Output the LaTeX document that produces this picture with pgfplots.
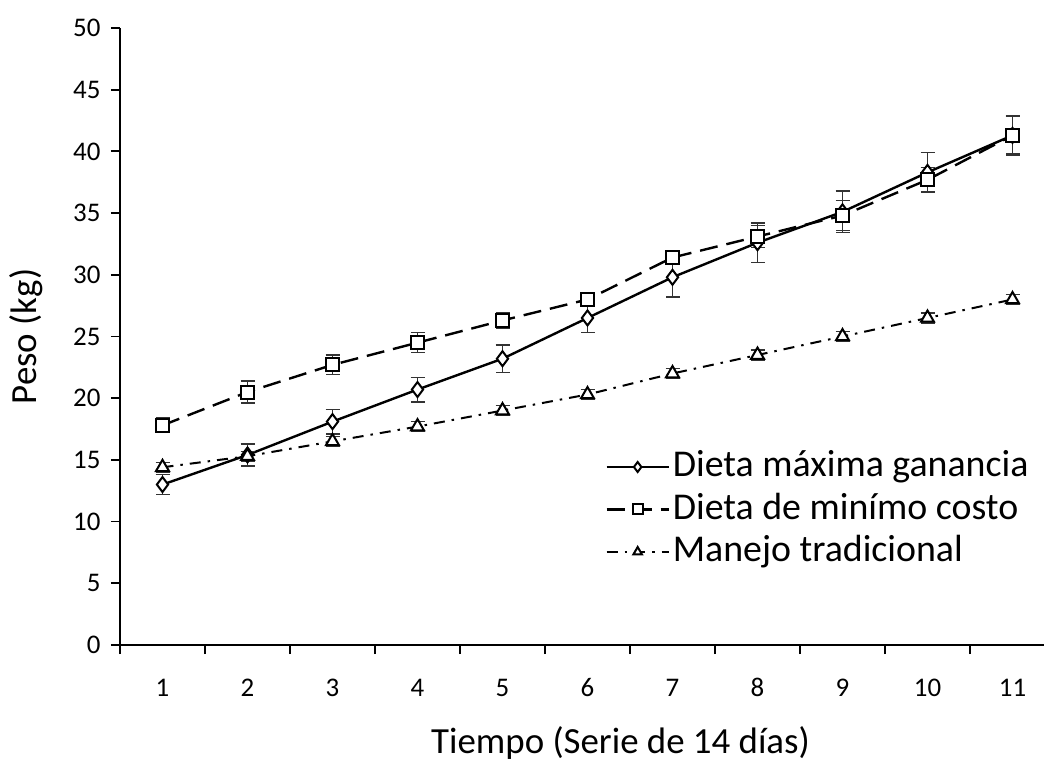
\documentclass[border=0pt]{standalone}
\usepackage{pgfplots}
\pgfplotsset{compat=1.18}
\usepackage{fontspec}
\setmainfont{Carlito}
\begin{document}
\begin{tikzpicture}
\useasboundingbox (0,0) rectangle (1044bp,762bp);
\begin{axis}[
  at={(120bp,117bp)}, anchor=south west,
  scale only axis, width=935bp, height=617bp,
  xmin=0.5, xmax=11.5, ymin=0, ymax=50,
  axis x line*=bottom, axis y line*=left,
  axis line style={line width=2.2bp, black},
  xtick={1,...,11}, major x tick style={draw=none},
  minor xtick={0.5,1.5,...,11.5},
  minor x tick style={line width=1.8bp, black},
  ytick={0,5,...,50},
  major y tick style={line width=1.8bp, black},
  tick align=outside, major tick length=9bp, minor tick length=9bp,
  /pgf/number format/assume math mode=true,
  xticklabel style={font=\fontsize{27}{30}\selectfont, anchor=center,
    text height=17bp, text depth=0pt, yshift=-34bp},
  yticklabel style={font=\fontsize{27}{30}\selectfont, xshift=-7bp},
  xlabel={Tiempo (Serie de 14 días)}, ylabel={Peso (kg)},
  xlabel style={font=\fontsize{37}{42}\selectfont, at={(rel axis cs:0.5,0)},
    anchor=center, xshift=33bp, yshift=-98bp},
  ylabel style={font=\fontsize{37}{42}\selectfont, at={(rel axis cs:0,0.5)},
    anchor=center, yshift=94bp},
  clip=false,
  legend style={draw=none, fill=none, at={(rel axis cs:0.519,0.318)}, anchor=north west,
    font=\fontsize{38}{42}\selectfont, row sep=0.5bp, inner sep=0pt,
    nodes={inner sep=0pt, inner xsep=3bp, text height=28bp, text depth=14bp, anchor=base west}},
  legend cell align=left,
  legend image code/.code={%
    \draw[#1, mark=none] (0bp,10bp) -- (62bp,10bp);
    \draw[#1, solid, mark size=5bp, line width=1.8bp] plot coordinates {(31bp,10bp)};},
  error bars/error bar style={line width=1.3bp, black!80},
  error bars/error mark options={rotate=90, mark size=7bp, line width=1.3bp, black!80},
]
% Dieta de maxima ganancia
\addplot[black, line width=2.4bp, mark=diamond*, mark size=7.5bp,
  mark options={fill=white, solid, line width=2bp},
  error bars/.cd, y dir=both, y explicit]
  coordinates {
  (1,13.0) +- (0,0.8)
  (2,15.4) +- (0,0.9)
  (3,18.1) +- (0,1.0)
  (4,20.7) +- (0,1.0)
  (5,23.2) +- (0,1.1)
  (6,26.5) +- (0,1.2)
  (7,29.8) +- (0,1.6)
  (8,32.6) +- (0,1.6)
  (9,35.1) +- (0,1.7)
  (10,38.3) +- (0,1.6)
  (11,41.3) +- (0,1.5)
  };
\addlegendentry{Dieta máxima ganancia}
% Dieta de minimo costo
\addplot[black, line width=2.4bp, dash pattern=on 18bp off 9bp, mark=square*, mark size=6.5bp,
  mark options={fill=white, solid, line width=2bp},
  error bars/.cd, y dir=both, y explicit]
  coordinates {
  (1,17.8) +- (0,0.6)
  (2,20.5) +- (0,0.9)
  (3,22.7) +- (0,0.8)
  (4,24.5) +- (0,0.8)
  (5,26.3) +- (0,0.6)
  (6,28.0) +- (0,0.5)
  (7,31.4) +- (0,0.4)
  (8,33.1) +- (0,0.9)
  (9,34.8) +- (0,1.2)
  (10,37.7) +- (0,1.0)
  (11,41.3) +- (0,1.6)
  };
\addlegendentry{Dieta de minímo costo}
% Manejo tradicional
\addplot[black, line width=2bp, dash pattern=on 11bp off 7bp on 2.5bp off 7bp, mark=triangle*, mark size=7.5bp,
  mark options={fill=white, solid, line width=2bp},
  error bars/.cd, y dir=both, y explicit]
  coordinates {
  (1,14.4) +- (0,0.4)
  (2,15.3) +- (0,0.4)
  (3,16.5) +- (0,0.4)
  (4,17.7) +- (0,0.4)
  (5,19.0) +- (0,0.4)
  (6,20.3) +- (0,0.4)
  (7,22.0) +- (0,0.4)
  (8,23.5) +- (0,0.4)
  (9,25.0) +- (0,0.4)
  (10,26.5) +- (0,0.4)
  (11,28.0) +- (0,0.4)
  };
\addlegendentry{Manejo tradicional}
\end{axis}
\end{tikzpicture}
\end{document}
